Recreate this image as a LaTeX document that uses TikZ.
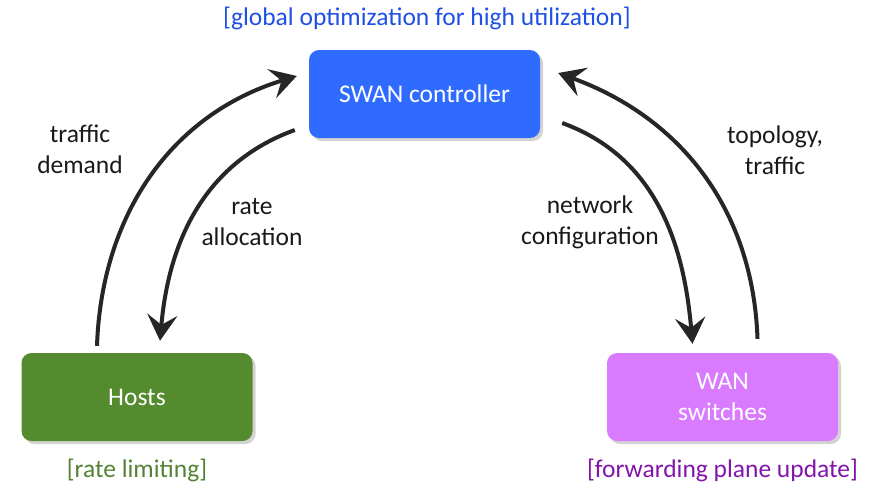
\documentclass[tikz,border=0pt]{standalone}
\usepackage{fontspec}
\setmainfont{Carlito}
\usetikzlibrary{arrows.meta}
\usetikzlibrary{shadows}
\definecolor{ctrlblue}{RGB}{47,107,255}
\definecolor{hostgreen}{RGB}{84,139,46}
\definecolor{wanpink}{RGB}{217,123,255}
\definecolor{noteblue}{RGB}{31,80,230}
\definecolor{notegreen}{RGB}{84,130,53}
\definecolor{notepurple}{RGB}{130,20,170}
\tikzset{
  box/.style={rounded corners=10pt, minimum width=231pt, minimum height=88pt,
    text=white, align=center, font=\fontsize{25.5}{31}\selectfont,
    drop shadow={opacity=0.35, shadow xshift=3pt, shadow yshift=-3pt}},
  lbl/.style={align=center, text=black!90, font=\fontsize{25.5}{31}\selectfont},
  note/.style={font=\fontsize{25.5}{31}\selectfont},
  flow/.style={line width=4pt, draw=black!85,
    -{Stealth[length=26pt,width=30pt,inset=10pt]}}
}
\begin{document}
\begin{tikzpicture}[x=1pt,y=-1pt]
        \useasboundingbox (0,0) rectangle (882,488);
        \node[box, fill=ctrlblue] (ctrl) at (424.5,94) {SWAN controller};
        \node[box, fill=hostgreen] (hosts) at (137,397) {Hosts};
        \node[box, fill=wanpink] (wan) at (722.5,397) {WAN\\switches};
        \node[note, text=noteblue] (goal) at (427,18) {[global optimization for high utilization]};
        \node[note, text=notegreen] (limit) at (137,470) {[rate limiting]};
        \node[note, text=notepurple] (update) at (722.5,470) {[forwarding plane update]};
        \node[lbl] (demand) at (80,149) {traffic\\demand};
        \node[lbl] (alloc) at (252,222) {rate\\allocation};
        \node[lbl] (config) at (590,222) {network\\configuration};
        \node[lbl] (topo) at (775,150) {topology,\\traffic};
        \draw[flow] ([xshift=-40pt,yshift=7pt]hosts.north) to[out=88,in=197] ([xshift=-12pt,yshift=18pt]ctrl.west);
        \draw[flow] ([xshift=-14pt,yshift=-36pt]ctrl.west) to[out=200,in=85] ([xshift=23pt,yshift=12pt]hosts.north);
        \draw[flow] ([xshift=22pt,yshift=-29pt]ctrl.east) to[out=-20,in=95] ([xshift=-30pt,yshift=9pt]wan.north);
        \draw[flow] ([xshift=35pt,yshift=14pt]wan.north) to[out=92,in=-20] ([xshift=18pt,yshift=21pt]ctrl.east);
    \end{tikzpicture}
\end{document}
